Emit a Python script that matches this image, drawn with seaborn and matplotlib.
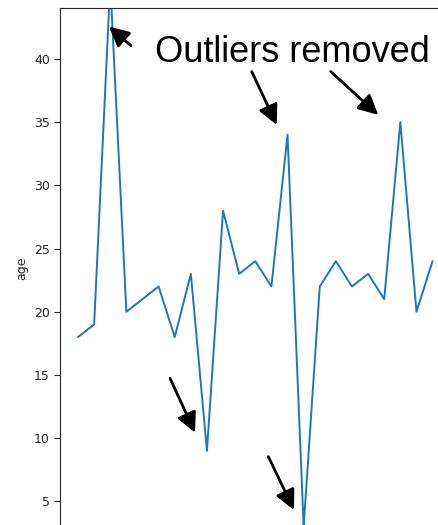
import matplotlib
matplotlib.use("Agg")
import matplotlib.pyplot as plt
import seaborn as sns

# age per row, in order (the one at index 2 runs off the top, index 14 off the bottom)
idx = list(range(23))
ages = [18, 19, 46, 20, 21, 22, 18, 23, 9, 28, 23, 24, 22, 34, 3, 22, 24, 22, 23, 21, 35, 20, 24]

# arrows: (tail x, tail y, head x, head y) in data units
arrows = [
    (3.29, 41.05, 1.92, 42.56),
    (10.78, 39.0, 12.33, 34.78),
    (15.68, 39.0, 18.63, 35.57),
    (5.71, 14.74, 7.26, 10.44),
    (11.81, 8.54, 13.40, 4.32),
]
label_text = "Outliers removed"

sns.set_style("ticks")
plt.rcParams['font.family'] = ['DejaVu Sans']

fig = plt.figure(figsize=(4.38, 5.25), dpi=100)
# axes runs past the right and bottom edges, the picture is a crop
ax = fig.add_axes([60.3 / 438, 1 - 529.2 / 525, 390 / 438, 521.2 / 525])

sns.lineplot(x=idx, y=ages, ax=ax, color="#1f77b4", linewidth=1.4)

ax.set_xlim(-1.1, 23.1)
ax.set_ylim(2.8, 44.03)
ax.set_yticks([5, 10, 15, 20, 25, 30, 35, 40])
ax.set_xticks([])
ax.tick_params(axis="y", labelsize=9, length=4, width=0.8)
ax.set_ylabel("age", fontsize=9)
ax.set_xlabel("")

for x0, y0, x1, y1 in arrows:
    ax.annotate("", xy=(x1, y1), xytext=(x0, y0),
                arrowprops=dict(arrowstyle="-|>", color="black", lw=2,
                                mutation_scale=30, shrinkA=0, shrinkB=0))

ax.text(4.78, 39.79, label_text, fontsize=26, family="Liberation Sans",
        ha="left", va="baseline", color="black")

fig.savefig("out.png", dpi=100)
